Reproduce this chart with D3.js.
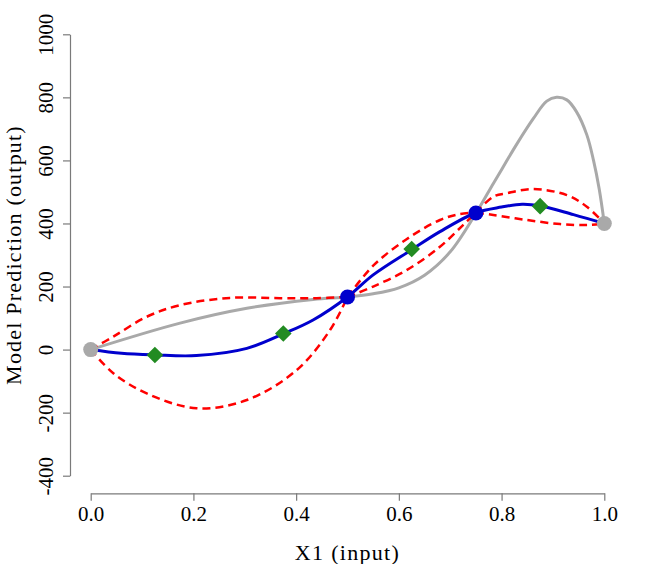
<!DOCTYPE html>
<html>
<head>
<meta charset="utf-8">
<script src="https://cdn.jsdelivr.net/npm/d3@7"></script>
<style>
  body { margin: 0; background: #fff; }
</style>
</head>
<body>
<svg id="chart" width="658" height="564"></svg>
<script>
const serif = '"Liberation Serif", "DejaVu Serif", serif';

// Axis ticks
const xTicks = [0, 0.2, 0.4, 0.6, 0.8, 1.0];
const yTicks = [-400, -200, 0, 200, 400, 600, 800, 1000];

// True function (grey)
const trueX = [0, 0.174, 0.304, 0.433, 0.5, 0.55, 0.6, 0.65, 0.7, 0.75, 0.784, 0.807, 0.829, 0.862, 0.888, 0.907, 0.927, 0.946, 0.966, 0.979, 0.99, 1.0];
const trueY = [0, 84, 131, 159, 167, 177, 196, 236, 310, 432, 527, 590, 650, 733, 788, 800, 792, 754, 681, 600, 510, 400];

// Predicted mean (blue)
const meanX = [0, 0.06, 0.125, 0.206, 0.304, 0.375, 0.433, 0.5, 0.55, 0.625, 0.68, 0.75, 0.8, 0.84, 0.875, 0.94, 1.0];
const meanY = [0, -12, -17, -19, 4, 50, 94, 167, 237, 317, 374, 434, 452, 461, 456, 428, 400];

// Upper / lower bands (red dashed)
const upperX = [0, 0.044, 0.109, 0.174, 0.271, 0.369, 0.44, 0.5, 0.55, 0.615, 0.68, 0.719, 0.75, 0.784, 0.81, 0.862, 0.927, 0.966, 1.0];
const upperY = [0, 41, 104, 141, 164, 163, 163, 167, 266, 350, 411, 430, 434, 485, 496, 509, 490, 453, 400];
const lowerX = [0, 0.044, 0.109, 0.206, 0.304, 0.401, 0.466, 0.5, 0.55, 0.615, 0.68, 0.725, 0.75, 0.784, 0.849, 0.914, 0.966, 1.0];
const lowerY = [0, -75, -139, -186, -160, -65, 62, 167, 200, 252, 326, 395, 434, 427, 411, 398, 395, 400];

// Design points
const knotX = [0, 0.5, 0.75, 1.0];
const boundX = [0, 1.0];
const boundY = [0, 400];
const trainX = [0.5, 0.75];
const trainY = [167, 433];
const testX = [0.125, 0.375, 0.625, 0.875];
const testY = [-17, 51, 319, 455];

const svg = d3.select('#chart');

const x = d3.scaleLinear().domain([0, 1]).range([90.7, 604.3]);
const y = d3.scaleLinear().domain([-400, 1000]).range([475.7, 34.3]);

// Axes (R-style, detached)
const xAxis = svg.append('g')
  .attr('transform', 'translate(0,493.3)')
  .call(d3.axisBottom(x).tickValues(xTicks).tickFormat(d3.format('.1f')).tickSize(7.5).tickSizeOuter(0));
xAxis.selectAll('text').attr('y', 27.4).attr('dy', null);

const yAxis = svg.append('g')
  .attr('transform', 'translate(70,0)')
  .call(d3.axisLeft(y).tickValues(yTicks).tickFormat(d => String(d)).tickSize(7).tickSizeOuter(0));
yAxis.selectAll('text')
  .attr('x', 0).attr('y', -17).attr('dy', null)
  .attr('transform', 'rotate(-90)')
  .attr('text-anchor', 'middle');

svg.selectAll('g').attr('font-family', serif).attr('font-size', 21);
svg.selectAll('.domain, .tick line').attr('stroke', '#7a7a7a').attr('stroke-width', 1.2);
svg.selectAll('.tick text').attr('fill', '#000');

svg.append('text')
  .attr('x', 347.5).attr('y', 560)
  .attr('text-anchor', 'middle')
  .attr('font-family', serif).attr('font-size', 22)
  .style('letter-spacing', '1.3px')
  .text('X1 (input)');

svg.append('text')
  .attr('transform', 'translate(21,255) rotate(-90)')
  .attr('text-anchor', 'middle')
  .attr('font-family', serif).attr('font-size', 22)
  .style('letter-spacing', '1.2px')
  .text('Model Prediction (output)');

const line = d3.line()
  .x(d => x(d[0]))
  .y(d => y(d[1]))
  .curve(d3.curveCatmullRom.alpha(0.5));

function zipPts(xs, ys) {
  return xs.map((v, i) => [v, ys[i]]);
}

// split a band at the design points so it can pinch there
function pieces(xs, ys) {
  const pts = zipPts(xs, ys);
  const out = [];
  for (let i = 0; i < knotX.length - 1; i++) {
    out.push(pts.filter(p => p[0] >= knotX[i] && p[0] <= knotX[i + 1]));
  }
  return out;
}

svg.append('path')
  .datum(zipPts(trueX, trueY))
  .attr('d', line)
  .attr('fill', 'none')
  .attr('stroke', '#a9a9a9')
  .attr('stroke-width', 3);

svg.selectAll('path.band')
  .data(pieces(upperX, upperY).concat(pieces(lowerX, lowerY)))
  .join('path')
  .attr('class', 'band')
  .attr('d', line)
  .attr('fill', 'none')
  .attr('stroke', '#ff0000')
  .attr('stroke-width', 2.5)
  .attr('stroke-dasharray', '8,5');

svg.append('path')
  .datum(zipPts(meanX, meanY))
  .attr('d', line)
  .attr('fill', 'none')
  .attr('stroke', '#0000cd')
  .attr('stroke-width', 3);

// Test points (green diamonds)
svg.selectAll('path.test')
  .data(zipPts(testX, testY))
  .join('path')
  .attr('class', 'test')
  .attr('d', d3.symbol(d3.symbolSquare, 138))
  .attr('transform', d => `translate(${x(d[0])},${y(d[1])}) rotate(45)`)
  .attr('fill', '#228b22');

// Training points (blue)
svg.selectAll('circle.train')
  .data(zipPts(trainX, trainY))
  .join('circle')
  .attr('class', 'train')
  .attr('cx', d => x(d[0]))
  .attr('cy', d => y(d[1]))
  .attr('r', 7.5)
  .attr('fill', '#0000cd');

// Boundary points (grey)
svg.selectAll('circle.bound')
  .data(zipPts(boundX, boundY))
  .join('circle')
  .attr('class', 'bound')
  .attr('cx', d => x(d[0]))
  .attr('cy', d => y(d[1]))
  .attr('r', 7.5)
  .attr('fill', '#a9a9a9');
</script>
</body>
</html>
